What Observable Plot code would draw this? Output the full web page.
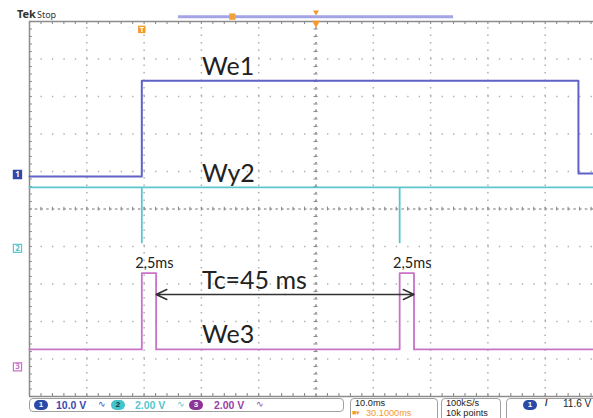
<!DOCTYPE html>
<html><head><meta charset="utf-8">
<script src="https://cdn.jsdelivr.net/npm/d3@7"></script>
<script src="https://cdn.jsdelivr.net/npm/@observablehq/plot@0.6"></script>
<style>
body{margin:0;background:#fff;}
#scope{position:relative;width:593px;height:418px;overflow:hidden;font-family:"Liberation Sans",sans-serif;}
#scope svg{position:absolute;left:0;top:0;}
.box{position:absolute;border:1.5px solid #a0a0a0;border-radius:4px;box-sizing:border-box;}
.t{position:absolute;white-space:nowrap;font-size:9.2px;line-height:9.2px;}
.big{font-size:10.5px;line-height:10.5px;font-weight:700;}
.badge{position:absolute;border-radius:6px;font-size:8px;font-weight:700;text-align:center;line-height:10px;height:10px;width:14px;}
</style></head><body><div id="scope"></div>
<script>
// Timebase: 10 ms per division, 10 x 10 division graticule.
const msPerDiv = 10;
const xDivs = 10, yDivs = 10;

const channelNames = ["We1", "Wy2", "We3"];
const voltsPerDiv = [10, 2, 2];
const groundDiv = [0.92, -1.05, -4.21];   // ground reference of each channel, divisions from centre
const traceColors = ["#5f62c6", "#5cc6ce", "#c872c8"];

// We1: steps up with the first pulse and drops again near the right edge
const we1Ms = [0, 19.6, 19.6, 95.8, 95.8, 100];
const we1V = [-0.5, -0.5, 25, 25, 0.3, 0.3];

// Pulse train seen on Wy2 and We3
const tcMs = 45;
const pulseWidthMs = 2.5;
const firstPulseMs = 19.6;
const wy2HighV = 3.25, wy2SpikeV = 0.32;
const we3LowV = 0.93, we3HighV = 5.0;

const pulses = [firstPulseMs, firstPulseMs + tcMs];
const toDiv = (ch, v) => groundDiv[ch] + v / voltsPerDiv[ch];
const span = xDivs * msPerDiv;

const we1 = we1Ms.map((t, i) => ({t, y: toDiv(0, we1V[i])}));
const wy2 = [{t: 0, y: toDiv(1, wy2HighV)}];
pulses.forEach(p => wy2.push({t: p, y: toDiv(1, wy2HighV)}, {t: p, y: toDiv(1, wy2SpikeV)}, {t: p, y: toDiv(1, wy2HighV)}));
wy2.push({t: span, y: toDiv(1, wy2HighV)});
const we3 = [{t: 0, y: toDiv(2, we3LowV)}];
pulses.forEach(p => we3.push({t: p, y: toDiv(2, we3LowV)}, {t: p, y: toDiv(2, we3HighV)},
  {t: p + pulseWidthMs, y: toDiv(2, we3HighV)}, {t: p + pulseWidthMs, y: toDiv(2, we3LowV)}));
we3.push({t: span, y: toDiv(2, we3LowV)});

// Graticule helpers
const majorX = d3.range(1, xDivs).map(i => i * msPerDiv);
const majorY = d3.range(-yDivs / 2 + 1, yDivs / 2).filter(v => v !== 0);
const minorX = d3.range(0, xDivs * 5 + 1).map(i => i * msPerDiv / 5);
const minorY = d3.range(-yDivs * 5 / 2, yDivs * 5 / 2 + 1).map(i => i / 5);
const pxPerDivX = 57.3, pxPerDivY = 37.5;
const dotGrid = "#b0b0b0", edge = "#8c8c8c";

const arrowY = -2.28;
const midArrow = (pulses[0] + pulses[1]) / 2 + pulseWidthMs;

const chart = Plot.plot({
  width: 593, height: 418,
  x: {domain: [0, span], range: [29, 29 + xDivs * pxPerDivX], axis: null},
  y: {domain: [-yDivs / 2, yDivs / 2], range: [396, 21], axis: null},
  marks: [
    // dotted division lines
    Plot.ruleX(majorX, {y1: -5, y2: 5, stroke: dotGrid, strokeWidth: 1.5, strokeDasharray: `1.4 ${pxPerDivY / 5 - 1.4}`}),
    Plot.ruleY(majorY, {x1: 0, x2: span, stroke: dotGrid, strokeWidth: 1.5, strokeDasharray: `1.4 ${pxPerDivX / 5 - 1.4}`}),
    // centre cross with tick marks
    Plot.ruleX([50], {y1: -5, y2: 5, stroke: "#a0a0a0", strokeWidth: 1.5, strokeDasharray: `1.4 ${pxPerDivY / 5 - 1.4}`}),
    Plot.ruleY([0], {x1: 0, x2: span, stroke: "#a0a0a0", strokeWidth: 1.5, strokeDasharray: `2.5 ${pxPerDivX / 10 - 2.5}`}),
    Plot.ruleY(minorY, {x1: 49.65, x2: 50.35, stroke: edge, strokeWidth: 1.1}),
    Plot.ruleX(minorX, {y1: -0.05, y2: 0.05, stroke: edge, strokeWidth: 1.1}),
    // screen edges with inward ticks
    Plot.ruleY([5, -5], {x1: 0, x2: span, stroke: edge, strokeWidth: 1.5}),
    Plot.ruleX([0], {y1: -5, y2: 5, stroke: edge, strokeWidth: 1.5}),
    Plot.ruleX(minorX, {y1: 5, y2: 4.92, stroke: edge, strokeWidth: 1.1}),
    Plot.ruleX(minorX, {y1: -5, y2: -4.92, stroke: edge, strokeWidth: 1.1}),
    Plot.ruleY(minorY, {x1: 0, x2: 0.5, stroke: edge, strokeWidth: 1.1}),
    // traces
    Plot.line(we1, {x: "t", y: "y", stroke: traceColors[0], strokeWidth: 2}),
    Plot.line(wy2, {x: "t", y: "y", stroke: traceColors[1], strokeWidth: 1.8}),
    Plot.line(we3, {x: "t", y: "y", stroke: traceColors[2], strokeWidth: 1.8}),
    // period arrow between the pulse ends
    Plot.arrow([pulses[0] + pulseWidthMs, pulses[1] + pulseWidthMs], {
      x1: () => midArrow, y1: () => arrowY, x2: d => d, y2: () => arrowY,
      stroke: "#333", strokeWidth: 1.6, headLength: 11, headAngle: 50
    }),
    // annotations
    Plot.text([channelNames[0]], {x: () => 30.1, y: () => 3.78, text: d => d, textAnchor: "start", fontFamily: "Lato", fontSize: 25, fill: "#222"}),
    Plot.text([channelNames[1]], {x: () => 30.1, y: () => 0.93, text: d => d, textAnchor: "start", fontFamily: "Lato", fontSize: 25, fill: "#222"}),
    Plot.text([channelNames[2]], {x: () => 30.1, y: () => -3.36, text: d => d, textAnchor: "start", fontFamily: "Lato", fontSize: 25, fill: "#222"}),
    Plot.text([`Tc=${tcMs} ms`], {x: () => 30.1, y: () => -1.91, text: d => d, textAnchor: "start", fontFamily: "Lato", fontSize: 25, fill: "#222"}),
    Plot.text(pulses, {x: d => d + 2.2, y: () => -1.44, text: () => `${String(pulseWidthMs).replace(".", ",")}ms`, fontFamily: "Lato", fontSize: 14.5, fill: "#222"}),
    // channel ground markers
    Plot.dot([0, 1, 2], {x: () => -2.1, y: ch => groundDiv[ch], symbol: "square", r: 4.6,
      fill: ch => ch === 0 ? "#2f4aa6" : "#fff", stroke: ch => ch === 0 ? "#2f4aa6" : traceColors[ch], strokeWidth: 1.2}),
    Plot.text([0, 1, 2], {x: () => -2.1, y: ch => groundDiv[ch], text: ch => String(ch + 1), fontSize: 8, fontWeight: "bold",
      fill: ch => ch === 0 ? "#fff" : traceColors[ch]}),
    // trigger and record-view markers
    Plot.ruleY([5.13], {x1: 26, x2: 74, stroke: "#a3a3e6", strokeWidth: 3}),
    Plot.dot([35.4], {x: d => d, y: () => 5.13, symbol: "square", r: 3.6, fill: "#f2a03a"}),
    Plot.dot([firstPulseMs], {x: d => d, y: () => 4.79, symbol: "square", r: 4.2, fill: "#f39a2c"}),
    Plot.text([firstPulseMs], {x: d => d, y: () => 4.79, text: () => "T", fontSize: 7.5, fontWeight: "bold", fill: "#fff"}),
    Plot.dot([50], {x: d => d, y: () => 5.25, symbol: "triangle", r: 2.2, rotate: 180, fill: "#f39a2c"}),
    Plot.dot([50], {x: d => d, y: () => 4.96, symbol: "triangle", r: 3, rotate: 180, fill: "#f39a2c"}),
    Plot.text(["Tek"], {x: () => -2.2, y: () => 5.18, text: d => d, fontSize: 11, fontWeight: "bold", fill: "#333", textAnchor: "start"}),
    Plot.text(["Stop"], {x: () => 1.3, y: () => 5.18, text: d => d, fontSize: 9, fill: "#333", textAnchor: "start"})
  ]
});
const scope = document.getElementById("scope");
scope.appendChild(chart);

// status bar under the screen
const status = [
  `<div class="box" style="left:29px;top:398px;width:315px;height:14px"></div>`,
  `<div class="badge" style="left:34px;top:400px;background:#2b4aa8;color:#fff">1</div>`,
  `<div class="t big" style="left:56px;top:399.5px;color:#3b4ab0">${voltsPerDiv[0].toFixed(1)} V</div>`,
  `<div class="t" style="left:98px;top:400px;color:#3b4ab0;font-size:9px">∿</div>`,
  `<div class="badge" style="left:111px;top:400px;background:#45c3cb;color:#134">2</div>`,
  `<div class="t big" style="left:135px;top:399.5px;color:#55c6ce">${voltsPerDiv[1].toFixed(2)} V</div>`,
  `<div class="t" style="left:177px;top:400px;color:#55c6ce;font-size:9px">∿</div>`,
  `<div class="badge" style="left:189px;top:400px;background:#8c3496;color:#fff">3</div>`,
  `<div class="t big" style="left:214px;top:399.5px;color:#9a3fa6">${voltsPerDiv[2].toFixed(2)} V</div>`,
  `<div class="t" style="left:256px;top:400px;color:#9a3fa6;font-size:9px">∿</div>`,
  `<div class="box" style="left:350px;top:398px;width:88px;height:26px"></div>`,
  `<div class="t" style="left:355px;top:398.5px;color:#222">${msPerDiv.toFixed(1)}ms</div>`,
  `<div class="t" style="left:352px;top:409px;color:#f39a2c;font-size:7px;line-height:7px">■▾</div>`,
  `<div class="t" style="left:366px;top:408.5px;color:#f39a2c">30.1000ms</div>`,
  `<div class="box" style="left:441px;top:398px;width:60px;height:26px"></div>`,
  `<div class="t" style="left:446px;top:398.5px;color:#222">100kS/s</div>`,
  `<div class="t" style="left:446px;top:408.5px;color:#222">10k points</div>`,
  `<div class="box" style="left:506px;top:398px;width:100px;height:26px"></div>`,
  `<div class="badge" style="left:523px;top:400px;background:#2b4aa8;color:#fff">1</div>`,
  `<div class="t" style="left:545px;top:399px;color:#222;font-weight:700">/</div>`,
  `<div class="t" style="left:563px;top:399px;color:#222;font-size:10px">11.6 V</div>`
];
scope.insertAdjacentHTML("beforeend", status.join(""));
</script>
</body></html>
